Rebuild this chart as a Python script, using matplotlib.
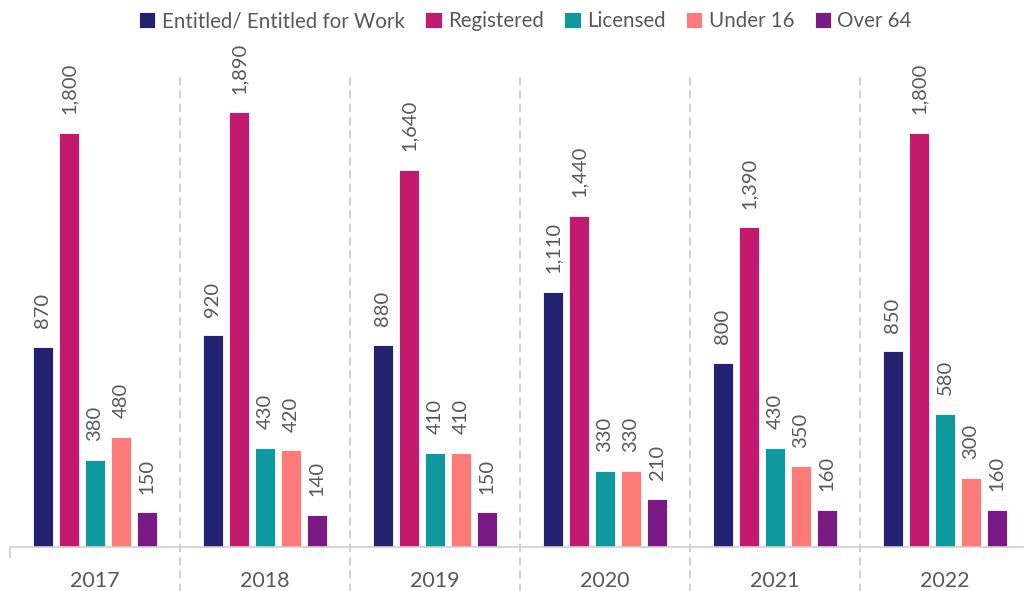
import numpy as np
import matplotlib.pyplot as plt

plt.rcParams['font.family'] = ['Lato', 'DejaVu Sans']

years = ['2017', '2018', '2019', '2020', '2021', '2022']
series_names = ['Entitled/ Entitled for Work', 'Registered', 'Licensed', 'Under 16', 'Over 64']
entitled = [870, 920, 880, 1110, 800, 850]
registered = [1800, 1890, 1640, 1440, 1390, 1800]
licensed = [380, 430, 410, 330, 430, 580]
under_16 = [480, 420, 410, 330, 350, 300]
over_64 = [150, 140, 150, 210, 160, 160]

colors = ['#222270', '#C21A6E', '#0E999F', '#FC7B78', '#7A1A84']
text_col = '#595959'
grid_col = '#D0D0D0'

fig = plt.figure(figsize=(10.24, 5.91), dpi=100)
ax = fig.add_axes([10 / 1024, 44 / 591, 1020 / 1024, 475 / 591])

x = np.arange(len(years))
step = 0.153
width = 0.118
all_series = [entitled, registered, licensed, under_16, over_64]

for k, (name, vals, col) in enumerate(zip(series_names, all_series, colors)):
    xs = x + (k - 2) * step
    ax.bar(xs, vals, width, color=col, label=name, edgecolor='white', linewidth=0.6)
    for xi, v in zip(xs, vals):
        ax.annotate(f'{v:,}', (xi, v), xytext=(0, 13.5), textcoords='offset points',
                    rotation=90, ha='center', va='bottom', fontsize=14.5, color=text_col)

ax.set_xlim(-0.5, len(years) - 0.5)
ax.set_ylim(0, 2065)

# dashed separators between years
for b in np.arange(0.5, len(years) - 0.5, 1):
    ax.plot([b, b], [-0.1, 1], transform=ax.get_xaxis_transform(), clip_on=False,
            color='#C8C8C8', lw=1.2, ls=(0, (5, 3)), zorder=0)

for s in ['top', 'right', 'left']:
    ax.spines[s].set_visible(False)
ax.spines['bottom'].set_color(grid_col)
ax.spines['bottom'].set_linewidth(1.2)
ax.set_yticks([])
ax.set_xticks(x)
ax.set_xticklabels(years, fontsize=15.5, color=text_col)
ax.tick_params(axis='x', length=0, pad=17)
ax.set_xticks([-0.5], minor=True)
ax.tick_params(axis='x', which='minor', length=8, color=grid_col, width=1.2)

fig.legend(loc='upper center', bbox_to_anchor=(0.513, 1.012), ncol=5, frameon=False,
           fontsize=14.8, labelcolor=text_col, handlelength=0.8, handleheight=0.8,
           handletextpad=0.3, columnspacing=1.0)

fig.savefig('out.png', dpi=100)
